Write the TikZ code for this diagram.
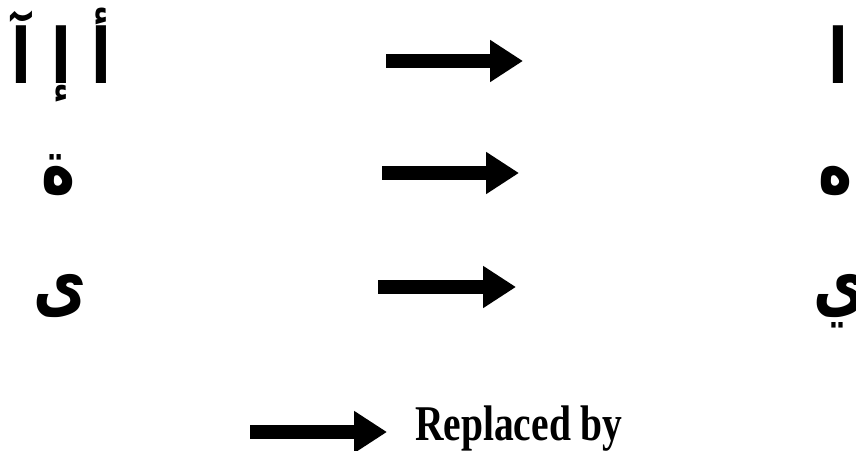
\documentclass[tikz,border=0pt]{standalone}
\usepackage{fontspec}
\usetikzlibrary{arrows.meta}
\TeXXeTstate=1
\newfontfamily\arabicfont[Script=Arabic,FakeStretch=0.76]{DejaVu Sans}
\newfontfamily\legendfont[FakeStretch=0.79]{Liberation Serif}

\begin{document}
\begin{tikzpicture}[
  x=1pt, y=-1pt,
  letter/.style={font=\arabicfont\bfseries\fontsize{76}{84}\selectfont,
                 inner sep=0pt, anchor=base},
  fat/.style={-{Triangle[length=33pt,width=40pt]}, line width=14pt},
  legend/.style={font=\legendfont\bfseries\fontsize{50}{56}\selectfont,
                 inner sep=0pt, anchor=base west},
]
\useasboundingbox (0,0) rectangle (856,450);
\clip (0,0) rectangle (856,450);

% ---- Row 1: hamza forms of alef ----
\node[letter] (src1) at (61,83)  {\beginR أ إ آ\endR};
\node[letter] (dst1) at (838,83) {\beginR ا\endR};

% ---- Row 2: taa marbuta ----
\node[letter] (src2) at (59,193)  {\beginR ة\endR};
\node[letter] (dst2) at (836,193) {\beginR ه\endR};

% ---- Row 3: alef maqsura ----
\node[letter] (src3) at (60,309)  {\beginR ى\endR};
\node[letter] (dst3) at (840,309) {\beginR ي\endR};

% ---- Replacement arrows ----
\coordinate (a1) at (386,61);  \coordinate (b1) at (523,61);
\coordinate (a2) at (382,173); \coordinate (b2) at (519,173);
\coordinate (a3) at (378,287); \coordinate (b3) at (516,287);
\draw[fat] (a1) -- (b1);
\draw[fat] (a2) -- (b2);
\draw[fat] (a3) -- (b3);

% ---- Legend ----
\coordinate (k1) at (250,432); \coordinate (k2) at (387,432);
\draw[fat] (k1) -- (k2);
\node[legend] (key) at (415,440) {Replaced by};

\end{tikzpicture}
\end{document}
